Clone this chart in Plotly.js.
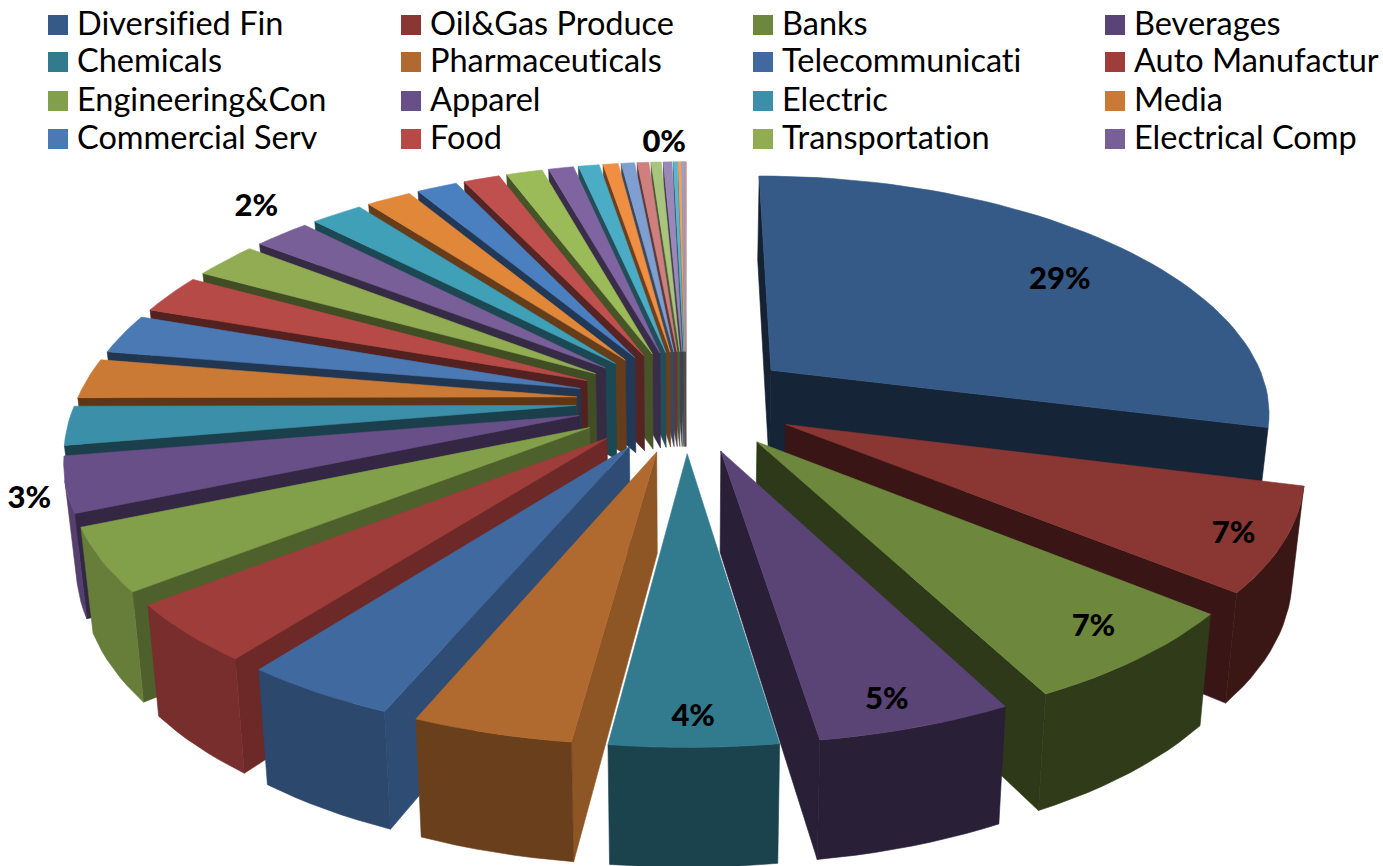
<!DOCTYPE html>
<html>
<head>
<meta charset="utf-8">
<style>html,body{margin:0;padding:0;background:#fff}#chart{width:1383px;height:866px}
text{font-variant-ligatures:none !important}</style>
<script src="https://cdn.plot.ly/plotly-3.0.1.min.js"></script>
</head>
<body>
<div id="chart"></div>
<script>
// ---------- data ----------
const legendNames = ["Diversified Fin","Oil&Gas Produce","Banks","Beverages",
  "Chemicals","Pharmaceuticals","Telecommunicati","Auto Manufactur",
  "Engineering&Con","Apparel","Electric","Media",
  "Commercial Serv","Food","Transportation","Electrical Comp"];
const shares = [29.0,7.0,6.5,5.17,4.39,4.22,4.11,3.99,4.27,3.72,2.62,2.69,2.69,2.64,2.45,2.15,
  1.97,1.72,1.56,1.39,1.39,0.96,0.80,0.58,0.51,0.44,0.39,0.33,0.15,0.12,0.08,0.06];
const colors = ["#355a87","#8a3633","#6d883c","#5a4476","#327b8e","#b0692e","#40699f","#9f3d3b",
  "#82a04a","#694f88","#3b8fa8","#cb7a36","#4a79b4","#b64a47","#91ac52","#785f98",
  "#3fa0b8","#e0873a","#4a7fc0","#c0504d","#9bbb59","#8064a2","#4bacc6","#f08f42",
  "#7f9fd0","#cf7f7e","#a9c47c","#9a88b8","#5cb5cc","#f0a060","#8aa8d8","#d89090"];
const labelTexts = ["29%","7%","7%","5%","4%","3%","2%","0%"];
const labelSlices = [0,1,2,3,4,9,15,26];
const labelRadii = [0.775,0.91,0.88,0.91,0.91,1.07,1.16,1.12];
const labelTurns = [4,1,-1,1,0,-2,3,1.3];

// ---------- projection of the tilted pie onto the plot axes ----------
const view = {cx:686, cy:401, a:500, px:0.165, b:232, p:0.15, explode:0.22, depth:98, shrink:0.98, labelDrop:1.5};
const total = shares.reduce((s,v)=>s+v,0);
const rad = d => d*Math.PI/180;
function project(X,Y,low){
  const w = 1 - view.p*Y;
  let x = view.cx + view.a*X/(1 - view.px*Y), y = view.cy + view.b*Y/w;
  if(low){ x = view.cx + (x-view.cx)*view.shrink; y += view.depth/w; }
  return [x,y];
}
function polar(mid,theta,r){
  return [view.explode*Math.sin(rad(mid)) + r*Math.sin(rad(theta)),
         -view.explode*Math.cos(rad(mid)) - r*Math.cos(rad(theta))];
}
function lerpStops(stops,t){
  if(t<=stops[0][0]) return stops[0][1];
  for(let i=1;i<stops.length;i++){
    if(t<=stops[i][0]){
      const f=(t-stops[i-1][0])/(stops[i][0]-stops[i-1][0]);
      return stops[i-1][1]+f*(stops[i][1]-stops[i-1][1]);
    }
  }
  return stops[stops.length-1][1];
}
const rimStops = [[0,.38],[120,.42],[160,.45],[180,.55],[200,.62],[215,.72],[230,.78],[250,.8],[360,.8]];
const wallStops = [[0,.38],[170,.42],[185,.82],[205,.72],[225,.65],[245,.5],[260,.45],[360,.45]];
function shade(hex,f){
  const n=parseInt(hex.slice(1),16);
  const c=[n>>16,(n>>8)&255,n&255].map(v=>Math.round(v*f));
  return `rgb(${c[0]},${c[1]},${c[2]})`;
}
function area(q){
  let s=0;
  for(let i=0;i<q.length;i++){const a=q[i],b=q[(i+1)%q.length];s+=a[0]*b[1]-b[0]*a[1];}
  return s/2;
}
function poly(pts,color){
  return {type:"scatter",mode:"lines",x:pts.map(p=>p[0]).concat(pts[0][0]),y:pts.map(p=>p[1]).concat(pts[0][1]),
    fill:"toself",fillcolor:color,line:{color:color,width:0.6},hoverinfo:"skip",showlegend:false};
}

// ---------- slices ----------
let start=0;
const slices = shares.map((v,i)=>{
  const span=v/total*360, s={i,from:start,to:start+span,mid:start+span/2};
  start+=span; return s;
});
const order = slices.slice().sort((a,b)=>(-Math.cos(rad(a.mid)))-(-Math.cos(rad(b.mid))));
const traces=[];
order.forEach(s=>{
  const col=colors[s.i%colors.length];
  const n=Math.max(2,Math.ceil((s.to-s.from)/2));
  const arcT=[...Array(n+1).keys()].map(k=>s.from+(s.to-s.from)*k/n);
  const apexW=polar(s.mid,s.mid,0);
  const arcW=arcT.map(t=>polar(s.mid,t,1));
  const top=arcW.map(p=>project(p[0],p[1],false));
  const bot=arcW.map(p=>project(p[0],p[1],true));
  const apexT=project(apexW[0],apexW[1],false), apexB=project(apexW[0],apexW[1],true);
  // radial walls
  const wallS=[apexT,top[0],bot[0],apexB];
  const wallE=[top[n],apexT,apexB,bot[n]];
  if(area(wallS)<0) traces.push(poly(wallS,shade(col,lerpStops(wallStops,s.from))));
  if(area(wallE)<0) traces.push(poly(wallE,shade(col,s.to<180?lerpStops(wallStops,s.to):0.5)));
  // outer rim: contiguous front-facing run
  let run=[];
  const flush=()=>{
    if(run.length){
      const pts=run.map(k=>top[k]).concat(run.slice().reverse().map(k=>bot[k]));
      const midT=arcT[run[Math.floor(run.length/2)]];
      traces.push(poly(pts,shade(col,lerpStops(rimStops,midT))));
      run=[];
    }
  };
  for(let k=0;k<n;k++){
    const q=[top[k],top[k+1],bot[k+1],bot[k]];
    if(area(q)<0){ if(!run.length) run.push(k); run.push(k+1);} else flush();
  }
  flush();
  // top surface
  traces.push(poly([apexT].concat(top),col));
});

// ---------- data labels ----------
const labelPts = labelTexts.map((t,j)=>{
  const s=slices[labelSlices[j]];
  const w=polar(s.mid,s.mid+labelTurns[j],labelRadii[j]);
  return project(w[0],w[1],false);
});
traces.push({type:"scatter",mode:"text",x:labelPts.map(p=>p[0]),y:labelPts.map(p=>p[1]+view.labelDrop),text:labelTexts,
  textposition:"middle center",textfont:{family:"Lato, Carlito, sans-serif",size:31,color:"#000",weight:900},
  cliponaxis:false,hoverinfo:"skip",showlegend:false});

// ---------- legend grid ----------
const colX=[58,411,763,1115], rowY=[25,62,101,139], textGap=19, textDrop=2;
const lx=legendNames.map((_,i)=>colX[i%4]), ly=legendNames.map((_,i)=>rowY[Math.floor(i/4)]);
traces.push({type:"scatter",mode:"markers",x:lx,y:ly,marker:{symbol:"square",size:20,color:colors.slice(0,16)},
  hoverinfo:"skip",showlegend:false,cliponaxis:false});
traces.push({type:"scatter",mode:"text",x:lx.map(v=>v+textGap),y:ly.map(v=>v+textDrop),text:legendNames,textposition:"middle right",
  textfont:{family:"Lato, Carlito, sans-serif",size:32.5,color:"#000"},hoverinfo:"skip",showlegend:false,cliponaxis:false});

Plotly.newPlot("chart",traces,{
  width:1383,height:866,margin:{l:0,r:0,t:0,b:0},paper_bgcolor:"#fff",plot_bgcolor:"#fff",showlegend:false,
  xaxis:{range:[0,1383],visible:false,fixedrange:true},
  yaxis:{range:[866,0],visible:false,fixedrange:true}
},{displayModeBar:false,staticPlot:true});
</script>
</body>
</html>
